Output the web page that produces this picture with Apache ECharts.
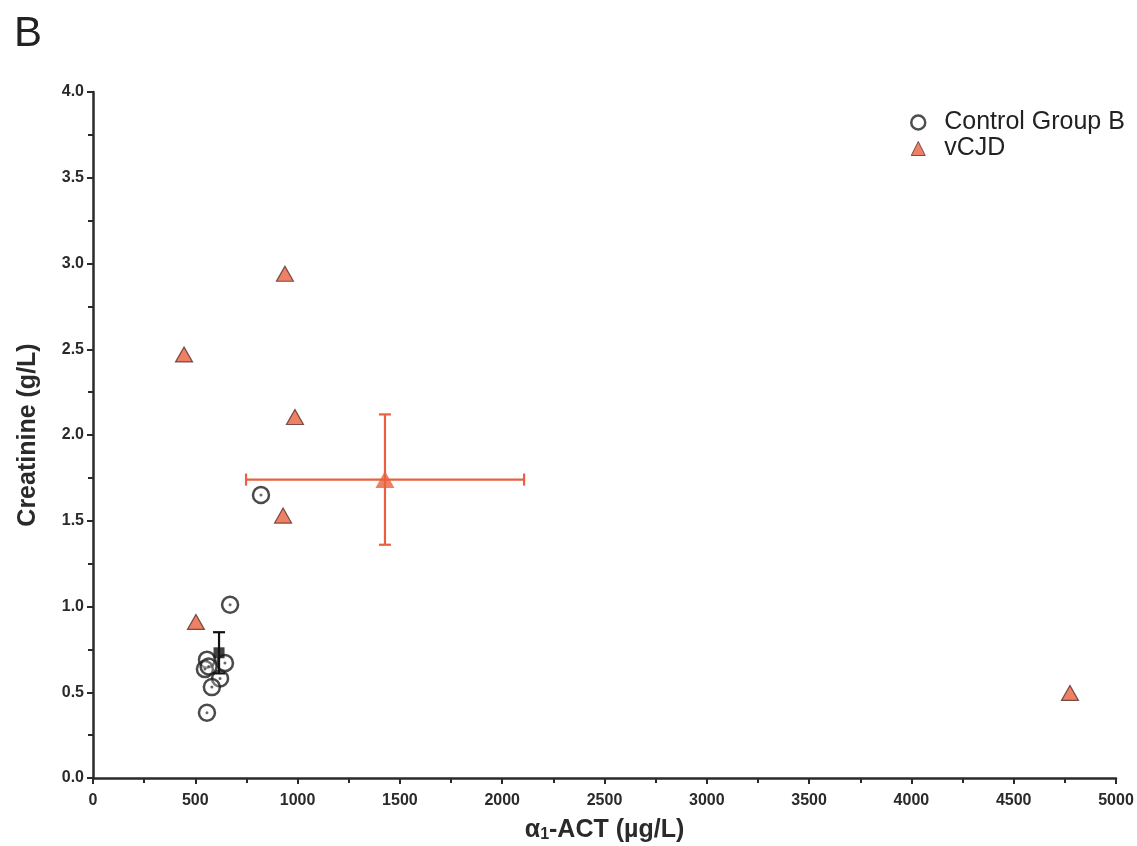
<!DOCTYPE html>
<html>
<head>
<meta charset="utf-8">
<script src="https://cdn.jsdelivr.net/npm/echarts@6/dist/echarts.min.js"></script>
<style>
  html, body { margin: 0; padding: 0; background: #fff; }
  #canvas { width: 1137px; height: 846px; }
</style>
</head>
<body>
<div id="canvas"></div>
<script>
// Control Group B: [alpha1-ACT, creatinine]
var controlPoints = [
    [821, 1.65], [670, 1.01], [557, 0.69], [645, 0.67], [547, 0.635],
    [621, 0.58], [581, 0.53], [557, 0.38], [565, 0.65]
];
// vCJD
var vcjdPoints = [
    [445, 2.47], [938, 2.94], [987, 2.105], [929, 1.53], [503, 0.91], [4775, 0.496]
];
// mean +/- SEM : [x, y, xLow, xHigh, yLow, yHigh]
var controlMean = [616, 0.73, 616, 616, 0.61, 0.85];
var vcjdMean = [1427, 1.74, 748, 2107, 1.36, 2.12];

var seriesNames = ['Control Group B', 'vCJD'];
var orange = '#e8603f';
var ink = '#2a2a2a';

var dom = document.getElementById("canvas");
var myChart = echarts.init(dom);

function errorBars(color) {
    return function (params, api) {
        var x = api.value(0), y = api.value(1);
        var xl = api.coord([api.value(2), y]);
        var xh = api.coord([api.value(3), y]);
        var yl = api.coord([x, api.value(4)]);
        var yh = api.coord([x, api.value(5)]);
        var cap = 6;
        var style = { stroke: color, lineWidth: 2.2 };
        var kids = [
            { type: 'line', shape: { x1: yl[0], y1: yl[1], x2: yh[0], y2: yh[1] }, style: style },
            { type: 'line', shape: { x1: yh[0] - cap, y1: yh[1], x2: yh[0] + cap, y2: yh[1] }, style: style },
            { type: 'line', shape: { x1: yl[0] - cap, y1: yl[1], x2: yl[0] + cap, y2: yl[1] }, style: style }
        ];
        if (api.value(3) > api.value(2)) {
            kids.push({ type: 'line', shape: { x1: xl[0], y1: xl[1], x2: xh[0], y2: xh[1] }, style: style });
            kids.push({ type: 'line', shape: { x1: xl[0], y1: xl[1] - cap, x2: xl[0], y2: xl[1] + cap }, style: style });
            kids.push({ type: 'line', shape: { x1: xh[0], y1: xh[1] - cap, x2: xh[0], y2: xh[1] + cap }, style: style });
        }
        return { type: 'group', children: kids };
    };
}

var labelFont = { fontFamily: 'Liberation Sans', fontWeight: 'bold', fontSize: 16, color: ink };

var option = {
    animation: false,
    backgroundColor: '#fff',
    title: {
        text: 'B',
        left: 9,
        top: 8,
        textStyle: { fontFamily: 'Liberation Sans', fontSize: 42, fontWeight: 'normal', color: '#222' }
    },
    legend: {
        orient: 'vertical',
        left: 905,
        top: 105,
        itemGap: 1,
        itemWidth: 14,
        itemHeight: 14,
        textStyle: { fontFamily: 'Liberation Sans', fontSize: 25, color: '#222', padding: [0, 0, 0, 14] },
        data: [
            { name: seriesNames[0], icon: 'circle', itemStyle: { color: '#fff', borderColor: '#222', borderWidth: 2.5 } },
            { name: seriesNames[1], icon: 'triangle', itemStyle: { color: orange, borderColor: '#5a3028', borderWidth: 1 } }
        ]
    },
    grid: { left: 93, right: 21, top: 92, bottom: 68, containLabel: false, outerBoundsMode: 'none' },
    xAxis: {
        type: 'value',
        min: 0,
        max: 5000,
        interval: 500,
        splitLine: { show: false },
        axisLine: { lineStyle: { color: ink, width: 2.5 } },
        axisTick: { length: 6, lineStyle: { color: ink, width: 2 } },
        minorTick: { show: true, splitNumber: 2, length: 5, lineStyle: { color: ink, width: 2 } },
        axisLabel: Object.assign({ margin: 15, formatter: function (v) { return String(v); } }, labelFont),
        name: '{a|α}{s|1}{a|-ACT (µg/L)}',
        nameLocation: 'middle',
        nameGap: 39,
        nameTextStyle: {
            rich: {
                a: { fontFamily: 'Liberation Sans', fontWeight: 'bold', fontSize: 25, color: ink },
                s: { fontFamily: 'Liberation Sans', fontWeight: 'bold', fontSize: 16, color: ink, verticalAlign: 'bottom', padding: [10, 0, 0, 0] }
            }
        }
    },
    yAxis: {
        type: 'value',
        min: 0,
        max: 4,
        interval: 0.5,
        splitLine: { show: false },
        axisLine: { lineStyle: { color: ink, width: 2.5 } },
        axisTick: { length: 6, lineStyle: { color: ink, width: 2 } },
        minorTick: { show: true, splitNumber: 2, length: 5, lineStyle: { color: ink, width: 2 } },
        axisLabel: Object.assign({ margin: 9, formatter: function (v) { return v.toFixed(1); } }, labelFont),
        name: 'Creatinine (g/L)',
        nameLocation: 'middle',
        nameGap: 52,
        nameTextStyle: { fontFamily: 'Liberation Sans', fontWeight: 'bold', fontSize: 25, color: ink }
    },
    series: [
        {
            name: seriesNames[0],
            type: 'scatter',
            symbol: 'circle',
            symbolSize: 16,
            itemStyle: { color: 'rgba(255,255,255,0.3)', borderColor: '#1e1e1e', borderWidth: 2.5 },
            data: controlPoints,
            z: 3
        },
        {
            name: 'ctrlDots',
            type: 'scatter',
            symbol: 'circle',
            symbolSize: 3,
            itemStyle: { color: '#444' },
            data: controlPoints,
            z: 4,
            silent: true
        },
        {
            name: seriesNames[1],
            type: 'scatter',
            symbol: 'triangle',
            symbolSize: [17, 15],
            itemStyle: { color: orange, borderColor: '#5a3028', borderWidth: 1.2 },
            data: vcjdPoints,
            z: 3
        },
        {
            name: 'ctrlErr',
            type: 'custom',
            renderItem: errorBars('#111'),
            data: [controlMean],
            z: 5,
            silent: true
        },
        {
            name: 'ctrlMean',
            type: 'scatter',
            symbol: 'rect',
            symbolSize: 11,
            itemStyle: { color: '#111' },
            data: [controlMean.slice(0, 2)],
            z: 6
        },
        {
            name: 'vcjdErr',
            type: 'custom',
            renderItem: errorBars(orange),
            data: [vcjdMean],
            z: 5,
            silent: true
        },
        {
            name: 'vcjdMean',
            type: 'scatter',
            symbol: 'triangle',
            symbolSize: [19, 17],
            itemStyle: { color: orange },
            data: [vcjdMean.slice(0, 2)],
            z: 6
        }
    ]
};

if (option && typeof option === "object") {
    myChart.setOption(option, true);
}
</script>
</body>
</html>
